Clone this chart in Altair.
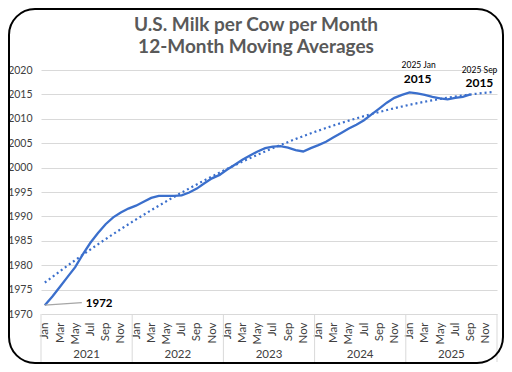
import altair as alt
import pandas as pd

# ---------------- data ----------------
months = ["Jan", "Feb", "Mar", "Apr", "May", "Jun", "Jul", "Aug", "Sep", "Oct", "Nov", "Dec"]
years = ["2021", "2022", "2023", "2024", "2025"]
y_ticks = [1970, 1975, 1980, 1985, 1990, 1995, 2000, 2005, 2010, 2015, 2020]

# 12-month moving average, Jan 2021 .. Sep 2025
milk = [
    1971.8, 1973.6, 1975.6, 1977.6, 1979.6, 1982.2, 1984.6, 1986.6, 1988.4, 1989.8, 1990.8, 1991.6,
    1992.2, 1993.0, 1993.8, 1994.2, 1994.2, 1994.2, 1994.3, 1994.9, 1995.7, 1996.8, 1997.8, 1998.5,
    1999.6, 2000.6, 2001.6, 2002.5, 2003.3, 2004.0, 2004.3, 2004.4, 2004.1, 2003.6, 2003.3, 2004.0,
    2004.6, 2005.3, 2006.2, 2007.1, 2008.0, 2008.8, 2009.7, 2010.9, 2012.1, 2013.3, 2014.3, 2014.9,
    2015.4, 2015.2, 2014.9, 2014.5, 2014.2, 2014.0, 2014.3, 2014.5, 2015.0,
]

n_cats = len(years) * len(months)
labels = [f"{years[k // 12]} {months[k % 12]}" for k in range(len(milk))]
df = pd.DataFrame({"i": list(range(len(milk))), "v": milk, "label": labels,
                   "txt": [str(round(x)) for x in milk]})

df_years = pd.DataFrame({"year": years, "c": [12 * k + 5.5 for k in range(len(years))]})
df_sep = pd.DataFrame({"b": [12 * k - 0.5 for k in range(len(years) + 1)]})

W, H = 456, 244
BLUE = "#3b6fcc"
FONT = "Lato"

xscale = alt.Scale(domain=[-0.5, n_cats - 0.5], nice=False, zero=False)
yscale = alt.Scale(domain=[y_ticks[0], y_ticks[-1]], nice=False, zero=False)

month_expr = "[" + ",".join(f"'{m}'" for m in months) + "][datum.value % 12]"

base = alt.Chart(df)

line = base.mark_line(color=BLUE, strokeWidth=2.3).encode(
    x=alt.X("i:Q", scale=xscale, title=None,
            axis=alt.Axis(values=list(range(0, n_cats, 2)), tickCount=200,
                          labelExpr=month_expr,
                          labelAngle=-90, labelFontSize=11.5, labelColor="#404040",
                          labelFont=FONT, ticks=False, domain=False, grid=False,
                          labelPadding=8, labelOverlap=False)),
    y=alt.Y("v:Q", scale=yscale, title=None,
            axis=alt.Axis(values=y_ticks, tickCount=200, format="d", labelFontSize=10.5,
                          labelColor="#404040", labelFont=FONT, ticks=False,
                          domain=False, gridColor="#d9d9d9", labelPadding=9,
                          labelOverlap=False)),
)

trend = base.transform_regression(
    "i", "v", method="poly", order=2, extent=[0, n_cats - 1]
).mark_line(color=BLUE, strokeWidth=2.2, strokeDash=[2, 3]).encode(
    x=alt.X("i:Q", scale=xscale), y=alt.Y("v:Q", scale=yscale)
)

first = base.transform_filter("datum.i == 0")
lead = first.mark_rule(color="#a6a6a6", strokeWidth=1.2, x2Offset=37, y2Offset=-2.5).encode(
    x="i:Q", x2="i:Q", y="v:Q", y2="v:Q")
lbl_first = first.mark_text(align="left", baseline="middle", dx=41, dy=-1, fontSize=11.5,
                            fontWeight="bold", font=FONT, color="#000000").encode(
    x="i:Q", y="v:Q", text="txt:N")

jan = base.transform_filter("datum.label == '2025 Jan'")
jan_v = jan.mark_text(align="center", baseline="middle", dx=8, dy=-13, fontSize=12,
                      fontWeight="bold", font=FONT, color="#000000").encode(
    x="i:Q", y="v:Q", text="txt:N")
jan_l = jan.mark_text(align="center", baseline="middle", dx=9, dy=-27, fontSize=8.5,
                      font=FONT, color="#000000").encode(
    x="i:Q", y="v:Q", text="label:N")

sep = base.transform_filter("datum.label == '2025 Sep'")
sep_v = sep.mark_text(align="center", baseline="middle", dx=9, dy=-11, fontSize=12,
                      fontWeight="bold", font=FONT, color="#000000").encode(
    x="i:Q", y="v:Q", text="txt:N")
sep_l = sep.mark_text(align="right", baseline="middle", dx=27, dy=-24, fontSize=8.5,
                      font=FONT, color="#000000").encode(
    x="i:Q", y="v:Q", text="label:N")

seps = alt.Chart(df_sep).mark_rule(color="#d9d9d9", strokeWidth=1).encode(
    x=alt.X("b:Q", scale=xscale), y=alt.value(H), y2=alt.value(H + 48))

year_txt = alt.Chart(df_years).mark_text(fontSize=11.5, font=FONT, color="#404040",
                                         baseline="middle").encode(
    x=alt.X("c:Q", scale=xscale), y=alt.value(H + 41), text="year:N")

title1 = alt.Chart(pd.DataFrame({"t": ["U.S. Milk per Cow per Month"]})).mark_text(
    fontSize=19, fontWeight="bold", font=FONT, color="#595959", baseline="middle"
).encode(x=alt.value(215), y=alt.value(-45), text="t:N")
title2 = alt.Chart(pd.DataFrame({"t": ["12-Month Moving Averages"]})).mark_text(
    fontSize=19, fontWeight="bold", font=FONT, color="#595959", baseline="middle"
).encode(x=alt.value(215), y=alt.value(-23), text="t:N")

border = alt.Chart(pd.DataFrame({"a": [0]})).mark_rect(
    filled=False, stroke="#000000", strokeWidth=2, cornerRadius=26
).encode(x=alt.value(-32), x2=alt.value(W + 6), y=alt.value(-61), y2=alt.value(H + 49))

chart = alt.layer(
    line, seps, trend, lead, lbl_first, jan_v, jan_l, sep_v, sep_l, year_txt,
    title1, title2, border
).properties(
    width=W, height=H,
    autosize=alt.AutoSizeParams(type="none"),
    padding={"left": 33, "top": 62, "right": 7, "bottom": 50},
    background="white",
).configure_view(stroke=None).configure_axis(labelOverlap=False, labelBound=False)

chart.save("out.html", embed_options={"renderer": "svg", "actions": False})
